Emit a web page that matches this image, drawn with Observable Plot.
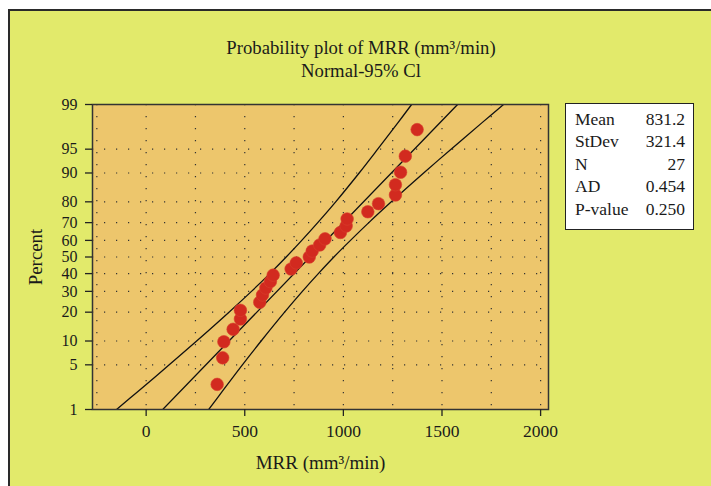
<!DOCTYPE html>
<html><head><meta charset="utf-8">
<script src="https://cdn.jsdelivr.net/npm/d3@7"></script>
<script src="https://cdn.jsdelivr.net/npm/@observablehq/plot@0.6"></script>
<style>
html,body{margin:0;padding:0;background:#fff;}
#fig{position:relative;width:711px;height:486px;overflow:hidden;background:#fff;font-family:"Liberation Serif",serif;color:#1a1a1a;}
#panel{position:absolute;left:8px;top:9px;width:720px;height:500px;background:#E2EA6B;border-left:2px solid #2a2a2a;border-top:2px solid #2a2a2a;}
#title{position:absolute;left:0;width:722px;top:36px;text-align:center;font-size:18.7px;line-height:23px;}
#plot{position:absolute;left:0;top:0;}
#stats{position:absolute;left:565px;top:103px;width:127px;height:125px;border:1.4px solid #222;background:#fff;}
#stats .row{display:flex;justify-content:space-between;font-size:17.5px;line-height:22.4px;padding:0 8px 0 9px;}
</style>
</head><body>
<div id="fig">
  <div id="panel"></div>
  <div id="title">Probability plot of MRR (mm³/min)<br>Normal-95% Cl</div>
  <div id="plot"></div>
  <div id="stats"><div style="height:4px"></div></div>
</div>
<script>
// ---- data ----
const mrr = [360, 388, 394, 441, 478, 478, 576, 590, 607, 630, 644, 735, 761, 827, 842, 880, 907, 985, 1014, 1019, 1124, 1178, 1264, 1264, 1290, 1314, 1374];
const percent = [2.6, 6.2, 9.8, 13.5, 17.2, 20.8, 24.5, 28.1, 31.8, 35.4, 39.1, 42.7, 46.4, 50.0, 53.6, 57.3, 60.9, 64.6, 68.2, 71.9, 75.5, 79.2, 82.8, 86.5, 90.2, 93.8, 97.4];
const fitPercent = [1, 99];
const fitMRR = [84, 1579];
const bandPercent = [1, 2, 5, 10, 20, 30, 40, 50, 60, 70, 80, 90, 95, 98, 99];
const lowerMRR = [-150, -43, 117, 256, 420, 534, 627, 710, 789, 870, 961, 1080, 1174, 1278, 1346];
const upperMRR = [317, 385, 488, 583, 702, 792, 873, 952, 1036, 1129, 1243, 1407, 1546, 1705, 1812];
const pctTicks = [1, 5, 10, 20, 30, 40, 50, 60, 70, 80, 90, 95, 99];
const xTicks = [0, 500, 1000, 1500, 2000];
const xGrid = [-250, 0, 250, 500, 750, 1000, 1250, 1500, 1750, 2000];
const statNames = ["Mean", "StDev", "N", "AD", "P-value"];
const statValues = ["831.2", "321.4", "27", "0.454", "0.250"];
const xLabel = "MRR (mm³/min)";
const yLabel = "Percent";

// normal quantile (probability-scale mapping)
function probit(p) {
  const a = [-3.969683028665376e+01, 2.209460984245205e+02, -2.759285104469687e+02, 1.383577518672690e+02, -3.066479806614716e+01, 2.506628277459239e+00];
  const b = [-5.447609879822406e+01, 1.615858368580409e+02, -1.556989798598866e+02, 6.680131188771972e+01, -1.328068155288572e+01];
  const c = [-7.784894002430293e-03, -3.223964580411365e-01, -2.400758277161838e+00, -2.549732539343734e+00, 4.374664141464968e+00, 2.938163982698783e+00];
  const d = [7.784695709041462e-03, 3.224671290700398e-01, 2.445134137142996e+00, 3.754408661907416e+00];
  const pl = 0.02425, ph = 1 - pl;
  let q, r;
  if (p < pl) { q = Math.sqrt(-2 * Math.log(p)); return (((((c[0]*q+c[1])*q+c[2])*q+c[3])*q+c[4])*q+c[5]) / ((((d[0]*q+d[1])*q+d[2])*q+d[3])*q+1); }
  if (p > ph) { q = Math.sqrt(-2 * Math.log(1 - p)); return -(((((c[0]*q+c[1])*q+c[2])*q+c[3])*q+c[4])*q+c[5]) / ((((d[0]*q+d[1])*q+d[2])*q+d[3])*q+1); }
  q = p - 0.5; r = q * q;
  return (((((a[0]*r+a[1])*r+a[2])*r+a[3])*r+a[4])*r+a[5])*q / (((((b[0]*r+b[1])*r+b[2])*r+b[3])*r+b[4])*r+1);
}

const pts = mrr.map((x, i) => ({x, z: probit(percent[i] / 100)}));
const fit = fitMRR.map((x, i) => ({x, z: probit(fitPercent[i] / 100)}));
const lower = lowerMRR.map((x, i) => ({x, z: probit(bandPercent[i] / 100)}));
const upper = upperMRR.map((x, i) => ({x, z: probit(bandPercent[i] / 100)}));
const yTicks = pctTicks.map(p => probit(p / 100));
const yFmt = z => String(pctTicks[yTicks.indexOf(z)]);

const chart = Plot.plot({
  width: 711, height: 486,
  marginLeft: 92, marginRight: 163, marginTop: 104, marginBottom: 77,
  style: {background: "transparent", fontFamily: "Liberation Serif, serif", fontSize: "16.5px", color: "#1a1a1a"},
  x: {domain: [-272, 2040]},
  y: {domain: [yTicks[0], yTicks[yTicks.length - 1]]},
  marks: [
    Plot.frame({fill: "#EDC66C"}),
    Plot.ruleX(xGrid, {stroke: "#333", strokeWidth: 1.2, strokeDasharray: "1.2 10.8", clip: true}),
    Plot.ruleY(yTicks.slice(1, -1), {stroke: "#333", strokeWidth: 1.2, strokeDasharray: "1.2 10.8"}),
    Plot.line(lower, {x: "x", y: "z", curve: "catmull-rom", stroke: "#111", strokeWidth: 1.3, clip: true}),
    Plot.line(upper, {x: "x", y: "z", curve: "catmull-rom", stroke: "#111", strokeWidth: 1.3, clip: true}),
    Plot.line(fit, {x: "x", y: "z", stroke: "#111", strokeWidth: 1.3, clip: true}),
    Plot.dot(pts, {x: "x", y: "z", r: 6.3, fill: "#D22A1F", stroke: "#D9402E", strokeWidth: 0.6}),
    Plot.frame({stroke: "#333", strokeWidth: 1.5}),
    Plot.axisX(xTicks, {tickSize: 7, tickPadding: 8, stroke: "#222", strokeWidth: 1.3, fontSize: 17.5, tickFormat: d => String(d), label: null}),
    Plot.axisY(yTicks, {tickSize: 7, tickPadding: 8, stroke: "#222", strokeWidth: 1.3, fontSize: 16, tickFormat: yFmt, label: null}),
    Plot.text([xLabel], {frameAnchor: "bottom", dy: 53, fontSize: 19, lineAnchor: "middle", textAnchor: "middle"}),
    Plot.text([yLabel], {frameAnchor: "left", dx: -57, rotate: -90, fontSize: 18.8, lineAnchor: "middle", textAnchor: "middle"})
  ]
});
document.getElementById("plot").appendChild(chart);

const box = document.getElementById("stats");
statNames.forEach((n, i) => {
  const row = document.createElement("div");
  row.className = "row";
  row.innerHTML = `<span>${n}</span><span>${statValues[i]}</span>`;
  box.appendChild(row);
});
</script>
</body></html>
